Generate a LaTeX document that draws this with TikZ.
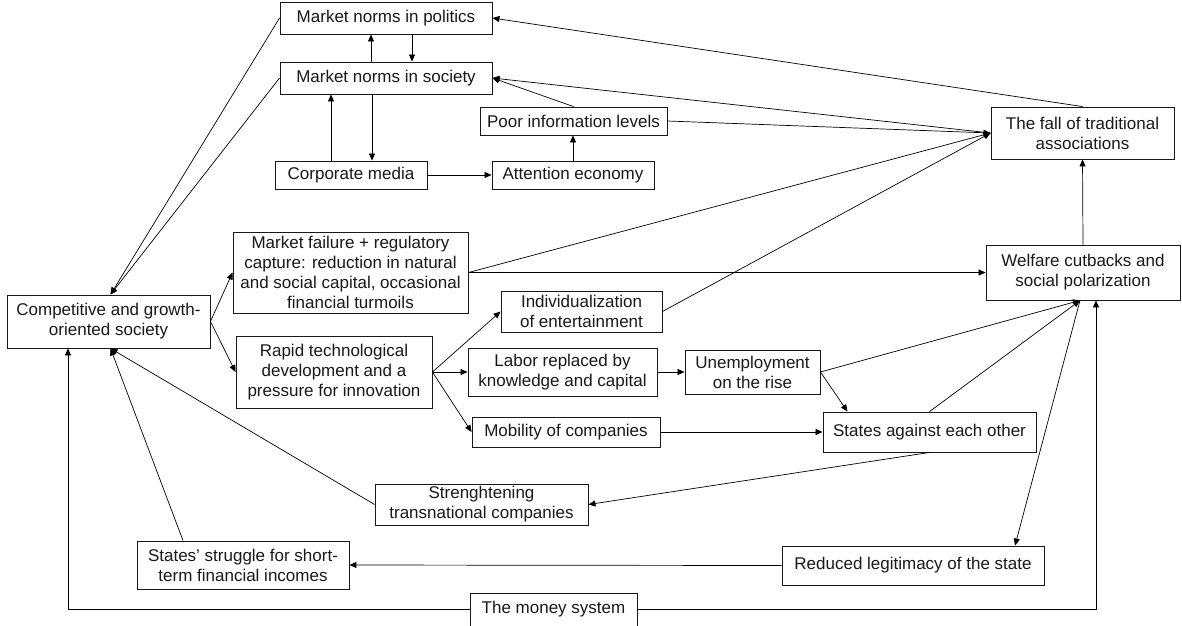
\documentclass[tikz,border=0pt]{standalone}
\usepackage{fontspec}
\setmainfont{Liberation Sans}
\usetikzlibrary{arrows.meta}
\begin{document}
\begin{tikzpicture}[x=1pt,y=-1pt,
  box/.style={draw=black!90,line width=0.9pt,inner sep=0pt,align=center,
    text=black!90,font=\fontsize{17}{20}\selectfont},
  arr/.style={draw=black,line width=0.7pt,-{Triangle[length=7pt,width=6pt]}},
  ln/.style={draw=black,line width=0.7pt}]
\useasboundingbox (0,0) rectangle (1182,625);
\fill[white] (0,0) rectangle (1182,625);

% boxes
\node[box,minimum width=212pt,minimum height=32pt] (pol) at (386,18) {Market norms in politics};
\node[box,minimum width=212pt,minimum height=32pt] (soc) at (386,78) {Market norms in society};
\node[box,minimum width=152pt,minimum height=28pt] (corp) at (351,175) {Corporate media};
\node[box,minimum width=162pt,minimum height=28pt] (att) at (573,175) {Attention economy};
\node[box,minimum width=187pt,minimum height=28pt] (poor) at (573.5,121) {Poor information levels};
\node[box,minimum width=183pt,minimum height=52pt] (fall) at (1082.5,133) {The fall of traditional\\associations};
\node[box,minimum width=194pt,minimum height=55pt] (welf) at (1083,272.5) {Welfare cutbacks and\\social polarization};
\node[box,minimum width=235pt,minimum height=81pt] (mf) at (350.5,272.5) {Market failure + regulatory\\capture: reduction in natural\\and social capital, occasional\\financial turmoils};
\node[box,minimum width=203pt,minimum height=53pt] (comp) at (108.5,321.5) {Competitive and growth-\\oriented society};
\node[box,minimum width=196pt,minimum height=72pt] (rapid) at (334,372) {Rapid technological\\development and a\\pressure for innovation};
\node[box,minimum width=161pt,minimum height=41pt] (indiv) at (581.5,311.5) {Individualization\\of entertainment};
\node[box,minimum width=189pt,minimum height=48pt] (labor) at (562.5,372) {Labor replaced by\\knowledge and capital};
\node[box,minimum width=135pt,minimum height=44pt] (unemp) at (752.5,372) {Unemployment\\on the rise};
\node[box,minimum width=188pt,minimum height=30pt] (mob) at (566,432) {Mobility of companies};
\node[box,minimum width=213pt,minimum height=40pt] (states) at (929.5,432) {States against each other};
\node[box,minimum width=213pt,minimum height=41pt] (stren) at (481.5,504.5) {Strenghtening\\transnational companies};
\node[box,minimum width=212pt,minimum height=48pt] (strug) at (243,565) {States’ struggle for short-\\term financial incomes};
\node[box,minimum width=262pt,minimum height=39pt] (red) at (913,565.5) {Reduced legitimacy of the state};
\node[box,minimum width=167pt,minimum height=33pt] (money) at (553.5,609.5) {The money system};

% market norms and media
\draw[arr] (pol.west) -- ([xshift=2pt]comp.north);
\draw[arr] (soc.west) -- ([xshift=2pt]comp.north);
\draw[arr] ([xshift=-15pt]soc.north) -- ([xshift=-15pt]pol.south);
\draw[arr] ([xshift=26pt]pol.south) -- ([xshift=26pt]soc.north);
\draw[arr] ([xshift=-20pt]corp.north) -- ([xshift=-20pt]corp.north |- soc.south);
\draw[arr] ([xshift=-14pt]soc.south) -- ([xshift=21pt]corp.north);
\draw[arr] (corp.east) -- (att.west);
\draw[arr] (att.north) -- (att.north |- poor.south);
\draw[arr] (poor.north) -- (soc.east);
\draw[arr] (fall.west) -- (soc.east);
\draw[arr] (fall.north) -- (pol.east);

% into the fall of traditional associations
\draw[arr] (poor.east) -- (fall.west);
\draw[arr] (mf.east) -- (fall.west);
\draw[arr] (indiv.east) -- (fall.west);
\draw[arr] (welf.north) -- (fall.south);
\draw[arr] (mf.east) -- (welf.west);

% from the competitive society
\draw[arr] (comp.east) -- (mf.west);
\draw[arr] (comp.east) -- (rapid.west);
\draw[arr] (rapid.east) -- (indiv.west);
\draw[arr] (rapid.east) -- (labor.west);
\draw[arr] (rapid.east) -- (mob.west);
\draw[arr] (labor.east) -- (unemp.west);
\draw[arr] (unemp.east) -- ([xshift=-3pt]welf.south);
\draw[arr] (unemp.east) -- ([xshift=-82pt]states.north);
\draw[arr] (mob.east) -- (states.west);
\draw[arr] (states.north) -- ([xshift=-3pt]welf.south);
\draw[arr] (states.south) -- (stren.east);
\draw[arr] (stren.west) -- ([xshift=2pt]comp.south);
\draw[arr] ([xshift=-60pt]strug.north) -- ([xshift=2pt]comp.south);
\draw[arr] ([xshift=-3pt]welf.south) -- ([xshift=102pt]red.north);
\draw[arr] (red.west) -- (strug.east);

% the money system
\draw[arr] (money.west) -| ([xshift=-40.5pt]comp.south);
\draw[arr] (money.east) -| ([xshift=13pt]welf.south);
\end{tikzpicture}
\end{document}
